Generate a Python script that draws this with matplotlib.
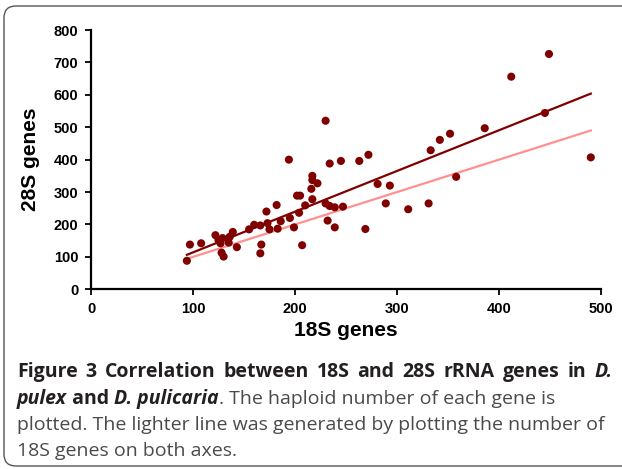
import matplotlib
matplotlib.use("Agg")
import matplotlib.pyplot as plt
from matplotlib.patches import FancyBboxPatch
from matplotlib.transforms import IdentityTransform

# haploid copy numbers
genes_18s = [94, 97, 108, 122, 125, 129, 127, 130, 128, 136, 139, 135, 143,
             155, 160, 166, 173, 167, 166, 172, 182, 186, 183, 175, 199, 195,
             204, 210, 207, 194, 202, 205, 217, 216, 217, 217, 222, 230, 234,
             245, 230, 234, 239, 247, 232, 239, 263, 272, 269, 281, 293, 289,
             311, 331, 333, 342, 352, 358, 386, 412, 445, 449, 490]
genes_28s = [88, 138, 142, 167, 152, 158, 142, 101, 113, 162, 177, 144, 130,
             185, 199, 197, 204, 138, 111, 240, 260, 210, 187, 185, 191, 220,
             236, 259, 136, 400, 289, 289, 278, 310, 350, 337, 327, 520, 388,
             396, 265, 257, 253, 255, 212, 191, 396, 415, 186, 325, 320, 265,
             247, 265, 429, 461, 480, 347, 497, 656, 544, 726, 407]

# fitted regression line (slope, intercept) as drawn in the figure
fit_slope = 1.256
fit_intercept = -11.7

x_ticks = [0, 100, 200, 300, 400, 500]
y_ticks = [0, 100, 200, 300, 400, 500, 600, 700, 800]

W, H = 622, 469
fig = plt.figure(figsize=(W / 100, H / 100), dpi=100)
ax = fig.add_axes([91 / W, 1 - 289.3 / H, 510 / W, 259.3 / H])

x0, x1 = min(genes_18s), max(genes_18s)
ax.plot([x0, x1], [x0, x1], color="#ff9090", lw=1.6, zorder=2)
ax.plot([x0, x1], [fit_slope * x0 + fit_intercept, fit_slope * x1 + fit_intercept],
        color="#800000", lw=1.6, zorder=2)
ax.scatter(genes_18s, genes_28s, s=34, color="#800000", edgecolors="none", zorder=3)

ax.set_xlim(0, 500)
ax.set_ylim(0, 800)
ax.set_xticks(x_ticks)
ax.set_yticks(y_ticks)
for s in ["top", "right"]:
    ax.spines[s].set_visible(False)
for s in ["left", "bottom"]:
    ax.spines[s].set_linewidth(1.6)
ax.tick_params(direction="out", length=4, width=1.3, pad=5)
for lab in ax.get_xticklabels() + ax.get_yticklabels():
    lab.set_family("Liberation Sans")
    lab.set_fontweight("bold")
    lab.set_fontsize(10.5)
ax.set_xlabel("18S genes", family="Liberation Sans", fontweight="bold", fontsize=15, labelpad=4)
ax.set_ylabel("28S genes", family="Liberation Sans", fontweight="bold", fontsize=15, labelpad=10)

# rounded frame, open on the right
frame = FancyBboxPatch((4, H - 466), 700, 460, boxstyle="round,pad=0,rounding_size=12",
                       transform=IdentityTransform(), fill=False, edgecolor="#555555", lw=1.0)
fig.add_artist(frame)

# caption, drawn piece by piece
dark = "#231f20"
grey = "#4a4a4a"
fs = 14
renderer = fig.canvas.get_renderer()


def put(x, yb, text, weight, style, color):
    t = fig.text(x / W, 1 - yb / H, text, fontsize=fs, family="Open Sans",
                 fontweight=weight, fontstyle=style, color=color, va="baseline")
    return t.get_window_extent(renderer).width


# first line is justified to the right margin
head_words = ["Figure", "3", "Correlation", "between", "18S", "and", "28S", "rRNA", "genes", "in"]
tmp = [fig.text(0, 0, w, fontsize=fs, family="Open Sans", fontweight="bold") for w in head_words]
tmp.append(fig.text(0, 0, "D.", fontsize=fs, family="Open Sans", fontweight="bold", fontstyle="italic"))
widths = [t.get_window_extent(renderer).width for t in tmp]
for t in tmp:
    t.remove()
gap = (612 - 17 - sum(widths)) / (len(widths) - 1)
x = 17
for i, w in enumerate(head_words + ["D."]):
    put(x, 377, w, "bold", "italic" if w == "D." else "normal", dark)
    x += widths[i] + gap

caption = [
    [("pulex", "bold", "italic", dark), (" and ", "bold", "normal", dark),
     ("D. pulicaria", "bold", "italic", dark),
     (". The haploid number of each gene is", "normal", "normal", grey)],
    [("plotted. The lighter line was generated by plotting the number of", "normal", "normal", grey)],
    [("18S genes on both axes.", "normal", "normal", grey)],
]
baselines = [404, 430, 456]
for parts, yb in zip(caption, baselines):
    x = 17
    for text, weight, style, color in parts:
        x += put(x, yb, text, weight, style, color)

fig.savefig("out.png", dpi=100)
